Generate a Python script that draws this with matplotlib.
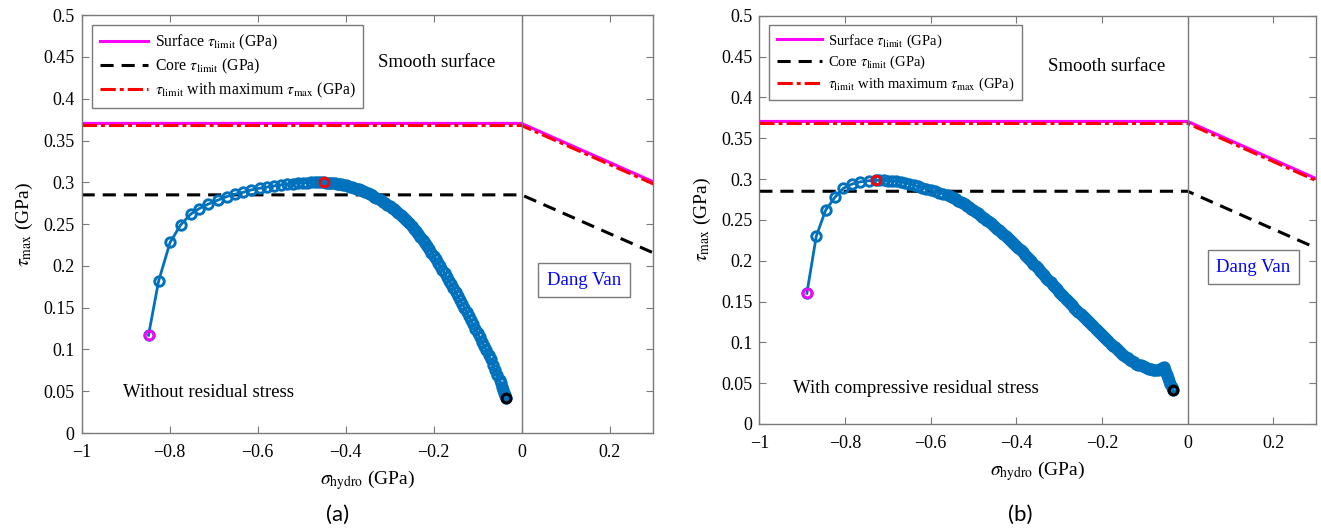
import matplotlib
matplotlib.use("Agg")
import matplotlib.pyplot as plt

plt.rcParams['font.family'] = ['Liberation Serif', 'DejaVu Serif']
plt.rcParams['mathtext.fontset'] = 'stix'

# Dang Van limit lines: constant below sigma=0, then falling with slope
limit_x = [-1.0, 0.0, 0.3]
surface_limit = [0.3705, 0.3705, 0.3005]
core_limit = [0.285, 0.285, 0.2155]
max_limit = [0.368, 0.368, 0.298]

xtick_vals = [-1, -0.8, -0.6, -0.4, -0.2, 0, 0.2]
xtick_labels = ['\u22121', '\u22120.8', '\u22120.6', '\u22120.4', '\u22120.2', '0', '0.2']
ytick_vals = [0, 0.05, 0.1, 0.15, 0.2, 0.25, 0.3, 0.35, 0.4, 0.45, 0.5]
ytick_labels = ['0', '0.05', '0.1', '0.15', '0.2', '0.25', '0.3', '0.35', '0.4', '0.45', '0.5']

# (a) without residual stress: sigma_hydro vs tau_max path
sig_a = [-0.848, -0.825, -0.799, -0.775, -0.752, -0.733, -0.712, -0.689, -0.670,
         -0.652, -0.633, -0.614, -0.595, -0.578, -0.562, -0.547, -0.533, -0.520,
         -0.508, -0.497, -0.487, -0.478, -0.470, -0.462, -0.455, -0.4485,
         -0.445, -0.440, -0.435, -0.430, -0.425, -0.420, -0.415, -0.410, -0.405,
         -0.400, -0.395, -0.390, -0.385, -0.380, -0.375, -0.370, -0.365, -0.360,
         -0.355, -0.350, -0.345, -0.340, -0.335, -0.330, -0.325, -0.320, -0.315,
         -0.310, -0.305, -0.300, -0.295, -0.290, -0.285, -0.280, -0.275, -0.270,
         -0.265, -0.260, -0.255, -0.250, -0.245, -0.240, -0.235, -0.230, -0.225,
         -0.220, -0.215, -0.210, -0.205, -0.200, -0.195, -0.190, -0.185, -0.180,
         -0.175, -0.170, -0.165, -0.160, -0.155, -0.150, -0.145, -0.140, -0.135,
         -0.130, -0.125, -0.120, -0.115, -0.110, -0.105, -0.100, -0.095, -0.090,
         -0.085, -0.080, -0.075, -0.070, -0.065, -0.060, -0.055, -0.050, -0.0475,
         -0.045, -0.0425, -0.040, -0.038, -0.036]
tau_a = [0.117, 0.182, 0.228, 0.249, 0.262, 0.2685, 0.274, 0.279, 0.283,
         0.2857, 0.288, 0.291, 0.293, 0.2945, 0.2958, 0.297, 0.298, 0.2985,
         0.299, 0.2994, 0.2997, 0.2998, 0.2999, 0.2999, 0.2998, 0.3,
         0.2995, 0.2994, 0.2992, 0.2990, 0.2987, 0.2984, 0.2980, 0.2975, 0.2969,
         0.2963, 0.2957, 0.2950, 0.2942, 0.2933, 0.2924, 0.2915, 0.2904, 0.2893,
         0.2882, 0.2870, 0.2857, 0.2843, 0.2829, 0.2815, 0.2799, 0.2783, 0.2767,
         0.2750, 0.2732, 0.2713, 0.2694, 0.2675, 0.2654, 0.2633, 0.2612, 0.2590,
         0.2563, 0.2536, 0.2508, 0.2480, 0.2447, 0.2413, 0.2379, 0.2345, 0.2309,
         0.2273, 0.2236, 0.2200, 0.2160, 0.2120, 0.2080, 0.2040, 0.1998, 0.1955,
         0.1913, 0.1870, 0.1825, 0.1780, 0.1735, 0.1690, 0.1643, 0.1595, 0.1548,
         0.1500, 0.1450, 0.1400, 0.1350, 0.1300, 0.1249, 0.1198, 0.1146, 0.1095,
         0.1041, 0.0988, 0.0934, 0.0880, 0.0818, 0.0755, 0.0693, 0.0630, 0.0593,
         0.0555, 0.0518, 0.0480, 0.0450, 0.0420]

# (b) with compressive residual stress
sig_b = [-0.889, -0.867, -0.845, -0.823, -0.804, -0.784, -0.765, -0.745, -0.727,
         -0.720, -0.710, -0.700, -0.690, -0.680, -0.670, -0.660, -0.650, -0.640,
         -0.630, -0.620, -0.610, -0.600, -0.590, -0.580, -0.570, -0.560,
         -0.555, -0.550, -0.545, -0.540, -0.535, -0.530, -0.525, -0.520, -0.515,
         -0.510, -0.505, -0.500, -0.495, -0.490, -0.485, -0.480, -0.475, -0.470,
         -0.465, -0.460, -0.455, -0.450, -0.445, -0.440, -0.435, -0.430, -0.425,
         -0.420, -0.415, -0.410, -0.405, -0.400, -0.395, -0.390, -0.385, -0.380,
         -0.375, -0.370, -0.365, -0.360, -0.355, -0.350, -0.345, -0.340, -0.335,
         -0.330, -0.325, -0.320, -0.315, -0.310, -0.305, -0.300, -0.295, -0.290,
         -0.285, -0.280, -0.275, -0.270, -0.265, -0.260, -0.255, -0.250, -0.245,
         -0.240, -0.235, -0.230, -0.225, -0.220, -0.215, -0.210, -0.205, -0.200,
         -0.195, -0.190, -0.185, -0.180, -0.175, -0.170, -0.165, -0.160, -0.155,
         -0.150, -0.145, -0.140, -0.135, -0.130, -0.125, -0.120, -0.115, -0.110,
         -0.105, -0.100, -0.095, -0.090, -0.085, -0.080, -0.075, -0.070, -0.065,
         -0.060, -0.055, -0.0525, -0.050, -0.0475, -0.045, -0.0425, -0.040,
         -0.037, -0.034]
tau_b = [0.160, 0.230, 0.262, 0.278, 0.2886, 0.2937, 0.2965, 0.2978, 0.2985,
         0.2984, 0.2983, 0.2981, 0.2978, 0.2974, 0.2966, 0.2955, 0.2941, 0.2926,
         0.2911, 0.2895, 0.2880, 0.2865, 0.2849, 0.2832, 0.2816, 0.2800,
         0.2788, 0.2775, 0.2763, 0.2750, 0.2735, 0.2720, 0.2705, 0.2690, 0.2673,
         0.2655, 0.2638, 0.2620, 0.2600, 0.2580, 0.2560, 0.2540, 0.2520, 0.2500,
         0.2480, 0.2460, 0.2438, 0.2415, 0.2393, 0.2370, 0.2346, 0.2323, 0.2299,
         0.2275, 0.2251, 0.2228, 0.2204, 0.2180, 0.2154, 0.2128, 0.2101, 0.2075,
         0.2048, 0.2020, 0.1993, 0.1965, 0.1936, 0.1908, 0.1879, 0.1850, 0.1821,
         0.1793, 0.1764, 0.1735, 0.1706, 0.1678, 0.1649, 0.1620, 0.1591, 0.1563,
         0.1534, 0.1505, 0.1479, 0.1453, 0.1426, 0.1400, 0.1375, 0.1350, 0.1325,
         0.1300, 0.1274, 0.1248, 0.1221, 0.1195, 0.1169, 0.1143, 0.1116, 0.1090,
         0.1064, 0.1038, 0.1011, 0.0985, 0.0961, 0.0937, 0.0914, 0.0890, 0.0868,
         0.0847, 0.0826, 0.0805, 0.0787, 0.0770, 0.0755, 0.0740, 0.0728, 0.0717,
         0.0706, 0.0695, 0.0687, 0.0679, 0.0671, 0.0665, 0.0663, 0.0662, 0.0672,
         0.0690, 0.0700, 0.0665, 0.0630, 0.0595, 0.0560, 0.0525, 0.0490,
         0.0455, 0.0416]

BLUE = '#0072BD'
AX_GREY = '#7a7a7a'


def draw_panel(ax, sig, tau, peak, note, note_xy, dang_xy, smooth_xy, legend_size):
    ax.plot(limit_x, surface_limit, '-', color='magenta', lw=2.2,
            label=r'Surface $\tau_{\rm limit}$ (GPa)')
    ax.plot(limit_x, core_limit, color='black', lw=2.2, linestyle=(0, (4.3, 2.6)),
            label=r'Core $\tau_{\rm limit}$ (GPa)')
    ax.plot(limit_x, max_limit, color='red', lw=2.2, linestyle=(0, (5, 1.3, 1.3, 1.3)),
            label=r'$\tau_{\rm limit}$ with maximum $\tau_{\rm max}$ (GPa)')
    ax.axvline(0, color=AX_GREY, lw=1.0)

    ax.plot(sig, tau, '-o', color=BLUE, lw=2.0, ms=6.8, mew=2.1,
            mfc='none', mec=BLUE)
    ax.plot(sig[0], tau[0], 'o', ms=6.3, mew=2.0, mfc='none', mec='magenta')
    ax.plot(sig[peak], tau[peak], 'o', ms=6.3, mew=2.0, mfc='none', mec='red')
    ax.plot(sig[-1], tau[-1], 'o', ms=6.3, mew=2.2, mfc='none', mec='black')

    ax.text(smooth_xy[0], smooth_xy[1], 'Smooth surface', fontsize=13.5,
            ha='center', va='center')
    ax.text(note_xy[0], note_xy[1], note, fontsize=13.5, ha='left', va='center')
    ax.text(dang_xy[0], dang_xy[1], 'Dang Van', fontsize=13.5, color='blue',
            ha='center', va='center',
            bbox=dict(boxstyle='square,pad=0.45', fc='white', ec=AX_GREY, lw=1.0))

    ax.set_xlim(-1, 0.3)
    ax.set_ylim(0, 0.5)
    ax.set_xticks(xtick_vals)
    ax.set_xticklabels(xtick_labels)
    ax.set_yticks(ytick_vals)
    ax.set_yticklabels(ytick_labels)
    ax.tick_params(direction='in', top=True, right=True, length=5, width=0.8,
                   color=AX_GREY, labelsize=13, pad=5)
    ax.tick_params(axis='x', pad=8)
    for s in ax.spines.values():
        s.set_color(AX_GREY)
        s.set_linewidth(1.0)
    ax.set_xlabel(r'$\sigma_{\rm hydro}$ (GPa)', fontsize=14, labelpad=5)
    ax.set_ylabel(r'$\tau_{\rm max}$ (GPa)', fontsize=14, labelpad=6)

    leg = ax.legend(loc='upper left', bbox_to_anchor=(0.018, 0.977), borderaxespad=0,
                    fontsize=legend_size, handlelength=3.1, handletextpad=0.4,
                    labelspacing=0.3, borderpad=0.5, fancybox=False, framealpha=1)
    leg.get_frame().set_edgecolor(AX_GREY)
    leg.get_frame().set_linewidth(1.0)


fig = plt.figure(figsize=(13.21, 5.30), dpi=100)
ax_a = fig.add_axes([0.0618, 0.183, 0.4329, 0.7883])
ax_b = fig.add_axes([0.5748, 0.200, 0.4215, 0.7704])

draw_panel(ax_a, sig_a, tau_a, 25, 'Without residual stress', (-0.906, 0.048),
           (0.142, 0.183), (-0.193, 0.444), 11.3)
draw_panel(ax_b, sig_b, tau_b, 8, 'With compressive residual stress', (-0.921, 0.044),
           (0.1535, 0.192), (-0.19, 0.438), 10.5)

fig.text(0.2555, 0.028, '(a)', fontsize=16, family=['Lato', 'DejaVu Sans'],
         ha='center', va='center')
fig.text(0.772, 0.028, '(b)', fontsize=16, family=['Lato', 'DejaVu Sans'],
         ha='center', va='center')

fig.savefig('out.png', dpi=100)
